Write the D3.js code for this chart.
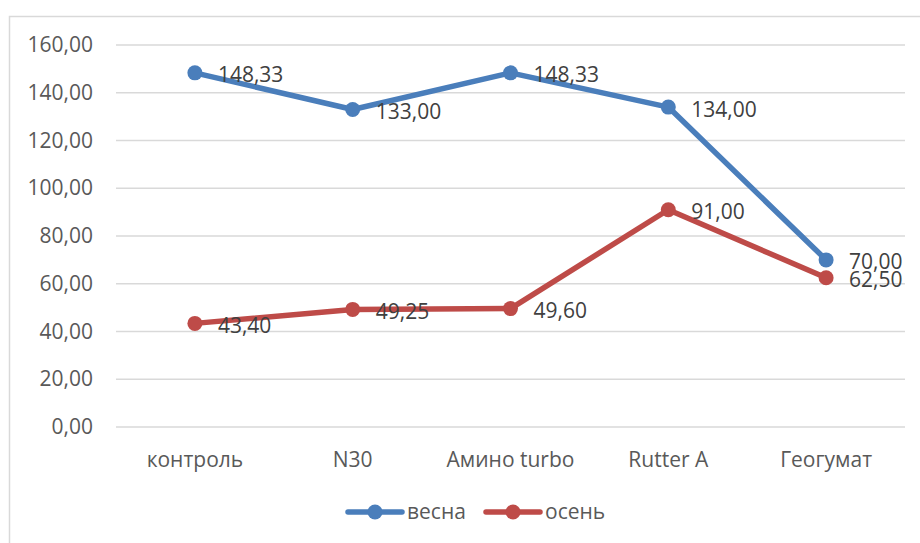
<!DOCTYPE html>
<html>
<head>
<meta charset="utf-8">
<script src="https://cdn.jsdelivr.net/npm/d3@7"></script>
<style>
  body { margin: 0; background: #fff; }
  text { font-family: "Open Sans", "Liberation Sans", sans-serif; }
</style>
</head>
<body>
<script>
// Chart values
var categories = ["контроль", "N30", "Амино turbo", "Rutter A", "Геогумат"];
var springValues = [148.33, 133.00, 148.33, 134.00, 70.00];
var autumnValues = [43.40, 49.25, 49.60, 91.00, 62.50];
var yTicks = [0, 20, 40, 60, 80, 100, 120, 140, 160];
var seriesNames = ["весна", "осень"];
var seriesColors = ["#4a7ebb", "#be4b48"];

var svgWidth = 920;
var svgHeight = 543;
var fontSize = "21px";

var chartMargin = { top: 45, right: 15, bottom: 116, left: 116 };
var chartWidth = 905 - chartMargin.left;
var chartHeight = 427 - chartMargin.top;

var svg = d3.select("body")
  .append("svg")
  .attr("width", svgWidth)
  .attr("height", svgHeight);

// outer chart border
svg.append("rect")
  .attr("x", 9.5)
  .attr("y", 16.5)
  .attr("width", 930)
  .attr("height", 560)
  .attr("fill", "none")
  .attr("stroke", "#d9d9d9")
  .attr("stroke-width", 1.5);

var chartGroup = svg.append("g")
  .attr("transform", `translate(${chartMargin.left}, ${chartMargin.top})`);

var xBandScale = d3.scaleBand()
  .domain(categories)
  .range([0, chartWidth]);

var yLinearScale = d3.scaleLinear()
  .domain([0, 160])
  .range([chartHeight, 0]);

var fmt = function(v) { return d3.format(".2f")(v).replace(".", ","); };
var xPos = function(i) { return xBandScale(categories[i]) + xBandScale.bandwidth() / 2; };

// gridlines
chartGroup.selectAll(".grid")
  .data(yTicks)
  .enter()
  .append("line")
  .attr("x1", 0)
  .attr("x2", chartWidth)
  .attr("y1", d => yLinearScale(d))
  .attr("y2", d => yLinearScale(d))
  .attr("stroke", "#d9d9d9")
  .attr("stroke-width", 1.5);

// y axis labels
var leftAxis = d3.axisLeft(yLinearScale).tickValues(yTicks).tickFormat(fmt).tickSize(0).tickPadding(23);
var yAxisG = chartGroup.append("g").call(leftAxis);
yAxisG.select(".domain").remove();
yAxisG.selectAll("text")
  .attr("fill", "#595959")
  .style("font-size", fontSize);

// x axis labels
var bottomAxis = d3.axisBottom(xBandScale).tickSize(0).tickPadding(25);
var xAxisG = chartGroup.append("g")
  .attr("transform", `translate(0, ${chartHeight})`)
  .call(bottomAxis);
xAxisG.select(".domain").remove();
xAxisG.selectAll("text")
  .attr("fill", "#595959")
  .style("font-size", fontSize);

var allSeries = [springValues, autumnValues];

var line = d3.line()
  .x((d, i) => xPos(i))
  .y(d => yLinearScale(d));

allSeries.forEach(function(values, s) {
  chartGroup.append("path")
    .datum(values)
    .attr("d", line)
    .attr("fill", "none")
    .attr("stroke", seriesColors[s])
    .attr("stroke-width", 5.5)
    .attr("stroke-linejoin", "round")
    .attr("stroke-linecap", "round");

  chartGroup.selectAll(".pt" + s)
    .data(values)
    .enter()
    .append("circle")
    .attr("cx", (d, i) => xPos(i))
    .attr("cy", d => yLinearScale(d))
    .attr("r", 7.5)
    .attr("fill", seriesColors[s]);
});

// data labels, to the right of each point
allSeries.forEach(function(values, s) {
  chartGroup.selectAll(".lbl" + s)
    .data(values)
    .enter()
    .append("text")
    .attr("x", (d, i) => xPos(i) + 23)
    .attr("y", d => yLinearScale(d) + 2)
    .attr("dy", "0.36em")
    .attr("fill", "#404040")
    .style("font-size", fontSize)
    .text(d => fmt(d));
});

// legend
var legend = svg.append("g");
var legendX = [348, 486];
seriesNames.forEach(function(name, s) {
  var g = legend.append("g").attr("transform", `translate(${legendX[s]}, 512)`);
  g.append("line")
    .attr("x1", 0).attr("x2", 54)
    .attr("stroke", seriesColors[s])
    .attr("stroke-width", 5.5)
    .attr("stroke-linecap", "round");
  g.append("circle")
    .attr("cx", 27).attr("r", 7.5)
    .attr("fill", seriesColors[s]);
  g.append("text")
    .attr("x", 59)
    .attr("dy", "0.33em")
    .attr("fill", "#595959")
    .style("font-size", fontSize)
    .text(name);
});
</script>
</body>
</html>
